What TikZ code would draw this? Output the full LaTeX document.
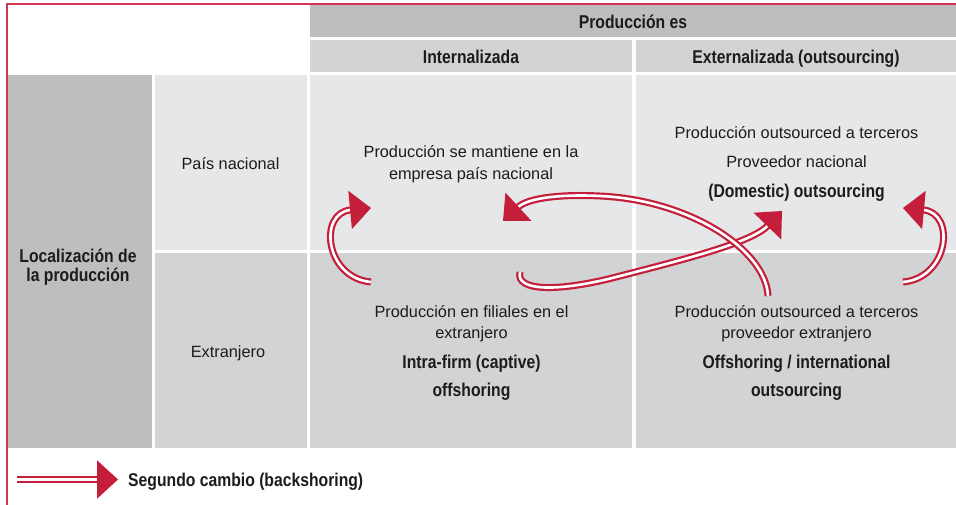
\documentclass[tikz,border=0pt]{standalone}
\usepackage{fontspec}
\setmainfont{Liberation Sans}
\newfontfamily\condFont{Liberation Sans}[FakeStretch=0.85]
\usepackage{tikz}
\usetikzlibrary{shapes, arrows, arrows.meta, positioning}
\usepackage{xcolor}
\definecolor{cellDark}{HTML}{BCBEC0}
\definecolor{cellMid}{HTML}{D1D3D4}
\definecolor{cellLight}{HTML}{E6E7E8}
\definecolor{shoreRed}{HTML}{C41E3A}
\definecolor{frameRed}{HTML}{D4344F}
\definecolor{inkGray}{HTML}{1E1B1C}
\tikzstyle{cell} = [
    rectangle,
    draw=none,
    inner sep=0pt,
    outer sep=0pt
]
\tikzstyle{darkCell} = [cell, fill=cellDark]
\tikzstyle{midCell} = [cell, fill=cellMid]
\tikzstyle{lightCell} = [cell, fill=cellLight]
\tikzstyle{bodyText} = [
    anchor=base,
    inner sep=0pt,
    text=inkGray,
    font=\fontsize{16.3}{20}\selectfont
]
\tikzstyle{boldText} = [
    bodyText,
    font=\condFont\bfseries\fontsize{18.5}{22}\selectfont
]
\tikzstyle{backshore} = [
    draw=shoreRed,
    line width=2.2pt,
    double=white,
    double distance=2.6pt,
    -{Triangle[length=21pt, width=38pt]}
]

\begin{document}
\begin{tikzpicture}[x=1pt, y=-1pt]
        \useasboundingbox (0,0) rectangle (956,505);

        \node[darkCell, minimum width=646pt, minimum height=32pt] (headProd) at (633,21) {};
        \node[midCell, minimum width=322pt, minimum height=32pt] (headIntern) at (471,56) {};
        \node[midCell, minimum width=320pt, minimum height=32pt] (headExtern) at (796,56) {};
        \node[darkCell, minimum width=144pt, minimum height=373pt] (locCell) at (80,261.5) {};
        \node[lightCell, minimum width=152pt, minimum height=175pt] (natCell) at (231,162.5) {};
        \node[midCell, minimum width=152pt, minimum height=195pt] (extCell) at (231,350.5) {};
        \node[lightCell, minimum width=322pt, minimum height=175pt] (intNat) at (471,162.5) {};
        \node[lightCell, minimum width=320pt, minimum height=175pt] (outNat) at (796,162.5) {};
        \node[midCell, minimum width=322pt, minimum height=195pt] (intExt) at (471,350.5) {};
        \node[midCell, minimum width=320pt, minimum height=195pt] (outExt) at (796,350.5) {};

        \draw[frameRed, line width=1.5pt] (6.8,505) -- (6.8,4) -- (956,4);

        \node[boldText] (prodEs) at (633,28.3) {Producción es};
        \node[boldText] (internTitle) at (471,63.3) {Internalizada};
        \node[boldText] (externTitle) at (796,63.3) {Externalizada (outsourcing)};
        \node[boldText] (locTitleA) at (78,262) {Localización de};
        \node[boldText] (locTitleB) at (78,281) {la producción};
        \node[bodyText] (natTitle) at (230.5,170) {País nacional};
        \node[bodyText] (extTitle) at (228,357.7) {Extranjero};

        \node[bodyText] (intNatA) at (471,158) {Producción se mantiene en la};
        \node[bodyText] (intNatB) at (471,180) {empresa país nacional};
        \node[bodyText] (outNatA) at (796.5,139) {Producción outsourced a terceros};
        \node[bodyText] (outNatB) at (796.5,168) {Proveedor nacional};
        \node[boldText] (outNatC) at (796.5,198) {(Domestic) outsourcing};
        \node[bodyText] (intExtA) at (471.5,317.5) {Producción en filiales en el};
        \node[bodyText] (intExtB) at (471.5,338.3) {extranjero};
        \node[boldText] (intExtC) at (471.5,368) {Intra-firm (captive)};
        \node[boldText] (intExtD) at (471.5,396.6) {offshoring};
        \node[bodyText] (outExtA) at (796.5,317.5) {Producción outsourced a terceros};
        \node[bodyText] (outExtB) at (796.5,338) {proveedor extranjero};
        \node[boldText] (outExtC) at (796.5,368.3) {Offshoring / international};
        \node[boldText] (outExtD) at (796.5,396.6) {outsourcing};

        \coordinate (loopInTail) at (371,282);
        \coordinate (loopInHead) at (371,208);
        \coordinate (loopOutTail) at (903,282);
        \coordinate (loopOutHead) at (903,208);
        \coordinate (crossUpTail) at (520,272);
        \coordinate (crossUpHead) at (782,211);
        \coordinate (crossBackTail) at (768,296);
        \coordinate (crossBackHead) at (503,221);

        \draw[backshore] (loopInTail) .. controls (325,278) and (318,213) .. (loopInHead);
        \draw[backshore] (loopOutTail) .. controls (949,278) and (956,213) .. (loopOutHead);
        \draw[backshore] (crossUpTail) .. controls (515,292) and (560,292) .. (620,276)
            .. controls (690,258) and (752,242) .. (crossUpHead);
        \draw[backshore] (crossBackTail) .. controls (766,250) and (690,200) .. (600,196)
            .. controls (560,194) and (528,198) .. (crossBackHead);

        \coordinate (legTail) at (17,479.5);
        \coordinate (legHead) at (118,479.5);
        \draw[backshore] (legTail) -- (legHead);
        \node[boldText, anchor=base west] (legText) at (128,486.5) {Segundo cambio (backshoring)};
\end{tikzpicture}
\end{document}
